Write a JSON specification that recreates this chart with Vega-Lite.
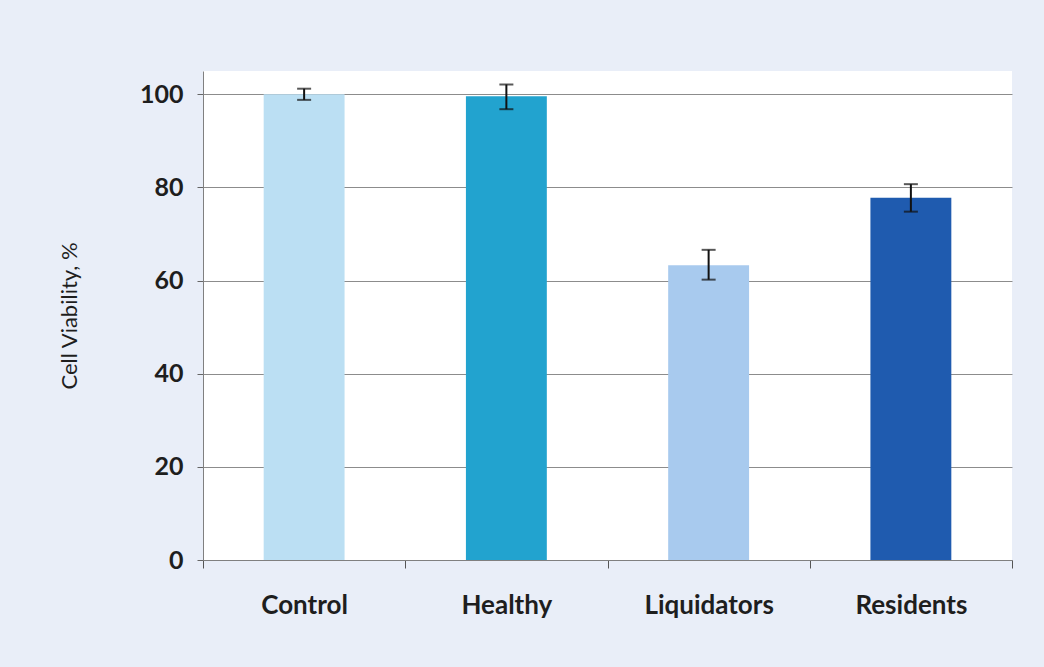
{
  "$schema": "https://vega.github.io/schema/vega-lite/v6.json",
  "width": 809,
  "height": 489,
  "autosize": {"type": "none"},
  "padding": {"left": 203, "top": 71, "right": 32, "bottom": 107},
  "background": "#e9eef8",
  "config": {"view": {"fill": "white", "stroke": null}, "font": "Lato"},
  "data": {
    "values": [
      {"group": "Control", "viability": 100, "lo": 98.8, "hi": 101.2},
      {"group": "Healthy", "viability": 99.6, "lo": 96.8, "hi": 102.1},
      {"group": "Liquidators", "viability": 63.3, "lo": 60.2, "hi": 66.6},
      {"group": "Residents", "viability": 77.8, "lo": 74.8, "hi": 80.7}
    ]
  },
  "encoding": {
    "x": {
      "field": "group",
      "type": "nominal",
      "sort": null,
      "scale": {"paddingInner": 0, "paddingOuter": 0},
      "axis": {
        "title": null,
        "labelAngle": 0,
        "labelFont": "Lato",
        "labelFontWeight": "bold",
        "labelFontSize": 26,
        "labelColor": "#1e1e1e",
        "labelPadding": 24,
        "tickBand": "extent",
        "tickSize": 8,
        "tickColor": "#555555",
        "domainColor": "#808080",
        "grid": false
      }
    }
  },
  "layer": [
    {
      "mark": {"type": "bar", "width": {"band": 0.4}},
      "encoding": {
        "y": {
          "field": "viability",
          "type": "quantitative",
          "scale": {"domain": [0, 105], "nice": false},
          "axis": {
            "values": [0, 20, 40, 60, 80, 100],
            "grid": true,
            "gridColor": "#8c8c8c",
            "tickSize": 6,
            "tickColor": "#666666",
            "domainColor": "#808080",
            "labelFont": "Lato",
            "labelFontWeight": "bold",
            "labelFontSize": 25,
            "labelColor": "#1e1e1e",
            "labelPadding": 14,
            "title": "Cell Viability, %",
            "titleFont": "Lato",
            "titleFontSize": 22,
            "titleFontWeight": "normal",
            "titleColor": "#1e1e1e",
            "titlePadding": 58
          }
        },
        "color": {
          "field": "group",
          "type": "nominal",
          "scale": {
            "domain": ["Control", "Healthy", "Liquidators", "Residents"],
            "range": ["#bbdff3", "#22a3cf", "#a8caee", "#1f5baf"]
          },
          "legend": null
        }
      }
    },
    {
      "mark": {
        "type": "errorbar",
        "ticks": {"size": 14, "color": "#111111"},
        "rule": {"color": "#111111"},
        "thickness": 2
      },
      "encoding": {
        "y": {"field": "lo", "type": "quantitative", "title": "Cell Viability, %"},
        "y2": {"field": "hi"}
      }
    }
  ]
}
